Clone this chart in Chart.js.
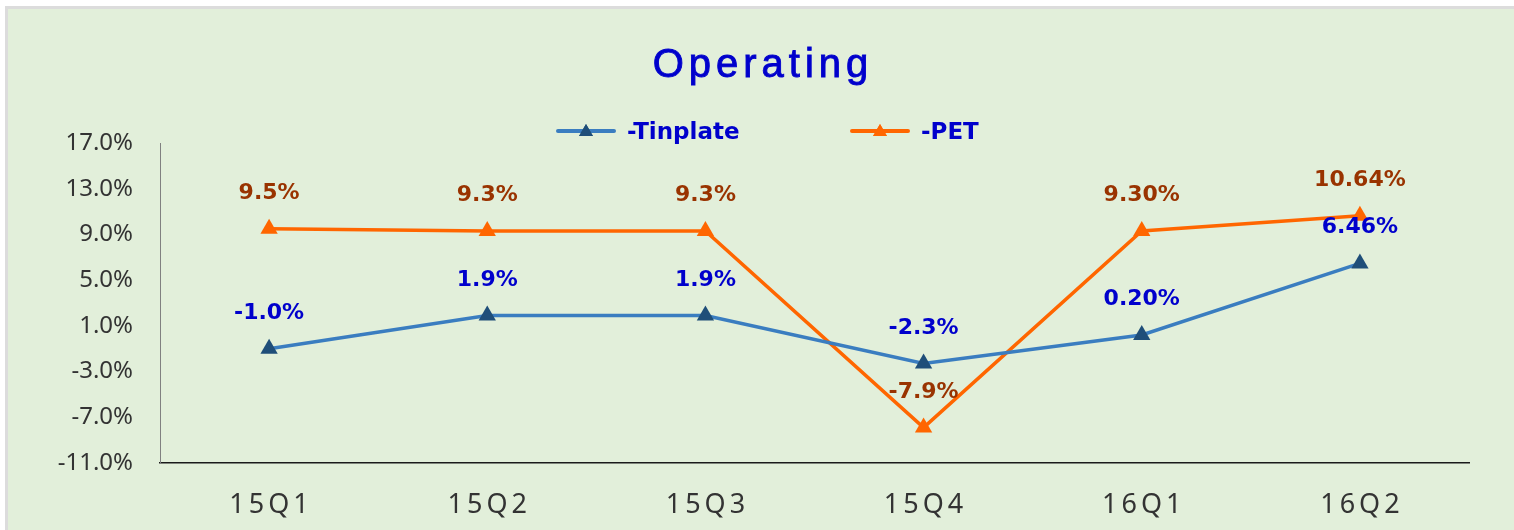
<!DOCTYPE html>
<html>
<head>
<meta charset="utf-8">
<script src="https://cdn.jsdelivr.net/npm/chart.js@4/dist/chart.umd.min.js"></script>
<style>
  html, body { margin: 0; padding: 0; background: #fff; overflow: hidden; }
  #frame {
    position: absolute; left: 5px; top: 6px;
    width: 1600px; height: 600px;
    border: 3px solid #dcdcdc;
    background: #e2efda;
  }
  #chart { position: absolute; left: 0; top: 0; }
</style>
</head>
<body>
<div id="frame">
  <canvas id="chart" width="1506" height="521"></canvas>
</div>
<script>
// données du graphique
const quarters = ['15Q1', '15Q2', '15Q3', '15Q4', '16Q1', '16Q2'];
const tinplate = [-1.0, 1.9, 1.9, -2.3, 0.20, 6.46];
const pet = [9.5, 9.3, 9.3, -7.9, 9.30, 10.64];
const tinplateLabels = ['-1.0%', '1.9%', '1.9%', '-2.3%', '0.20%', '6.46%'];
const petLabels = ['9.5%', '9.3%', '9.3%', '-7.9%', '9.30%', '10.64%'];
const yTicks = [-11, -7, -3, 1, 5, 9, 13, 17];

const titleText = 'Operating';
const seriesNames = ['-Tinplate', '-PET'];

// titre, légende, étiquettes des axes x et des valeurs
const decorPlugin = {
  id: 'decor',
  afterDraw(chart) {
    const ctx = chart.ctx;
    const xs = chart.scales.x;

    ctx.save();
    // titre
    ctx.fillStyle = '#0000cc';
    ctx.strokeStyle = '#0000cc';
    ctx.lineWidth = 0.9;
    ctx.font = '40px "Liberation Sans", Arial, sans-serif';
    ctx.letterSpacing = '5px';
    ctx.textAlign = 'center';
    ctx.textBaseline = 'alphabetic';
    ctx.fillText(titleText, 755, 68);
    ctx.strokeText(titleText, 755, 68);

    // légende
    ctx.letterSpacing = '0px';
    const legend = [
      { x: 550, name: seriesNames[0], line: '#3a7dc0', mark: '#1f4e79' },
      { x: 844, name: seriesNames[1], line: '#ff6600', mark: '#ff6600' }
    ];
    legend.forEach(l => {
      ctx.strokeStyle = l.line;
      ctx.lineWidth = 4;
      ctx.lineCap = 'round';
      ctx.beginPath();
      ctx.moveTo(l.x, 122);
      ctx.lineTo(l.x + 56, 122);
      ctx.stroke();
      ctx.fillStyle = l.mark;
      Chart.helpers.drawPoint(ctx, { pointStyle: 'triangle', radius: 8, rotation: 0, borderWidth: 0 }, l.x + 28, 123);
      ctx.fill();
      ctx.fillStyle = '#0000cc';
      ctx.font = 'bold 23px "DejaVu Sans", Verdana, sans-serif';
      ctx.textAlign = 'left';
      ctx.fillText(l.name, l.x + 69, 130);
    });

    // étiquettes de l'axe x
    ctx.fillStyle = '#333333';
    ctx.font = '27px "Noto Sans", sans-serif';
    ctx.letterSpacing = '4px';
    ctx.textAlign = 'center';
    quarters.forEach((q, i) => {
      ctx.fillText(q, xs.getPixelForTick(i) + 2, 504);
    });

    // étiquettes des valeurs
    ctx.letterSpacing = '0px';
    ctx.font = 'bold 22px "DejaVu Sans", Verdana, sans-serif';
    const sets = [
      { idx: 0, labels: tinplateLabels, color: '#0000cc' },
      { idx: 1, labels: petLabels, color: '#993300' }
    ];
    sets.forEach(s => {
      const meta = chart.getDatasetMeta(s.idx);
      ctx.fillStyle = s.color;
      meta.data.forEach((pt, i) => {
        ctx.fillText(s.labels[i], pt.x, pt.y - 30);
      });
    });
    ctx.restore();
  }
};

const ctx = document.getElementById('chart').getContext('2d');
new Chart(ctx, {
  type: 'line',
  data: {
    labels: quarters,
    datasets: [
      {
        label: seriesNames[0],
        data: tinplate,
        borderColor: '#3a7dc0',
        borderWidth: 3.5,
        pointStyle: 'triangle',
        pointRadius: 10,
        pointBackgroundColor: '#1f4e79',
        pointBorderColor: '#1f4e79',
        pointBorderWidth: 0,
        tension: 0
      },
      {
        label: seriesNames[1],
        data: pet,
        borderColor: '#ff6600',
        borderWidth: 3.5,
        pointStyle: 'triangle',
        pointRadius: 10,
        pointBackgroundColor: '#ff6600',
        pointBorderColor: '#ff6600',
        pointBorderWidth: 0,
        tension: 0
      }
    ]
  },
  options: {
    responsive: false,
    animation: false,
    events: [],
    layout: {
      padding: { top: 134, right: 45, left: 0, bottom: 0 }
    },
    plugins: {
      legend: { display: false },
      title: { display: false },
      tooltip: { enabled: false }
    },
    scales: {
      x: {
        offset: true,
        grid: { display: false, drawTicks: false },
        border: { display: true, color: '#1a1a1a', width: 1.5 },
        ticks: { display: false },
        afterFit: scale => { scale.height = 67; }
      },
      y: {
        min: yTicks[0],
        max: yTicks[yTicks.length - 1],
        afterBuildTicks: scale => {
          scale.ticks = yTicks.map(v => ({ value: v }));
        },
        grid: { display: false, drawTicks: false },
        border: { display: true, color: '#808080', width: 1 },
        ticks: {
          padding: 27,
          color: '#333333',
          font: { family: '"Noto Sans", sans-serif', size: 24 },
          callback: v => v.toFixed(1) + '%'
        },
        afterFit: scale => { scale.width = 152; }
      }
    }
  },
  plugins: [decorPlugin]
});
</script>
</body>
</html>
